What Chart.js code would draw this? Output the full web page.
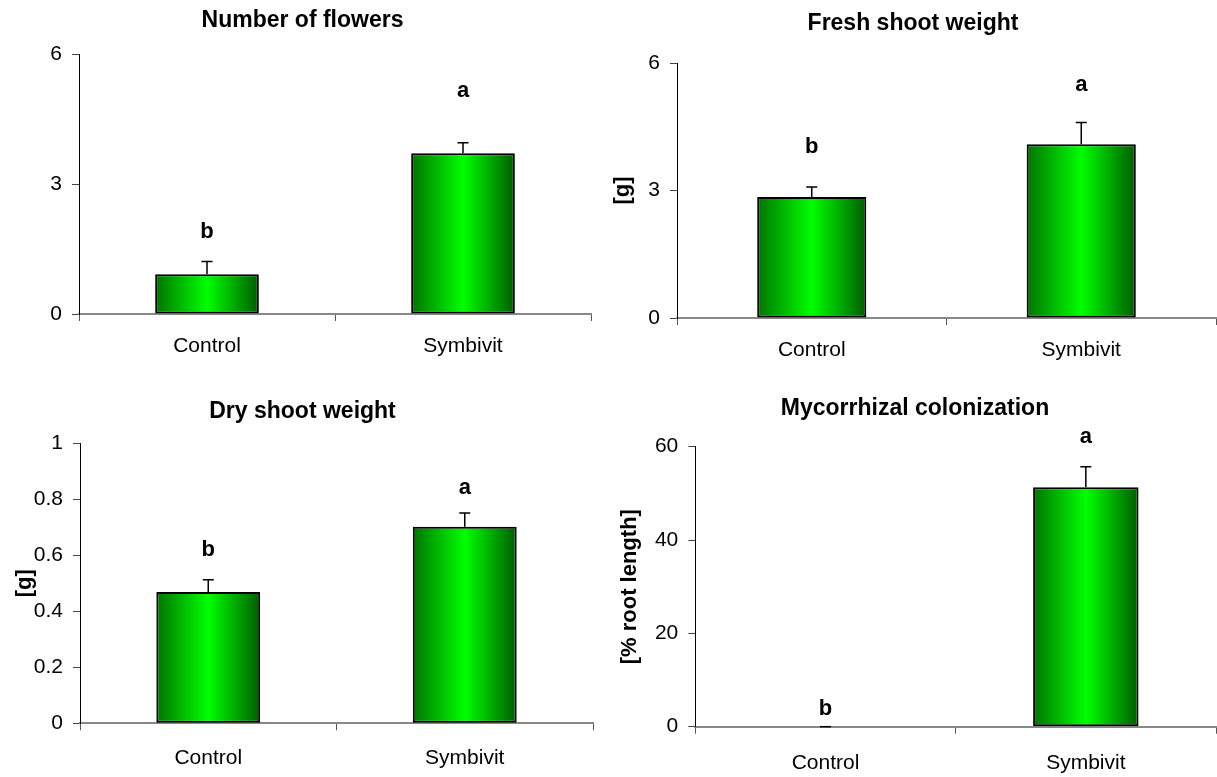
<!DOCTYPE html>
<html>
<head>
<meta charset="utf-8">
<script src="https://cdn.jsdelivr.net/npm/chart.js@4.4.0/dist/chart.umd.min.js"></script>
<style>
  body { margin: 0; background: #fff; width: 1217px; height: 777px; overflow: hidden; position: relative; }
  canvas { position: absolute; }
</style>
</head>
<body>
<canvas id="c1" width="594" height="380" style="left:14px;top:0px"></canvas>
<canvas id="c2" width="607" height="380" style="left:610px;top:0px"></canvas>
<canvas id="c3" width="596" height="397" style="left:12px;top:380px"></canvas>
<canvas id="c4" width="603" height="397" style="left:614px;top:380px"></canvas>
<script>
const categories = ['Control', 'Symbivit']
const letters = ['b', 'a']

const flowers = [0.92, 3.71]
const flowersErr = [0.29, 0.24]
const flowersLetterAt = [1.89, 5.15]

const fresh = [2.85, 4.09]
const freshErr = [0.23, 0.51]
const freshLetterAt = [4.03, 5.48]

const dry = [0.469, 0.702]
const dryErr = [0.044, 0.049]
const dryLetterAt = [0.619, 0.839]

const colon = [0, 51.3]
const colonErr = [0, 4.4]
const colonLetterAt = [3.9, 62.1]

Chart.defaults.font.family = "'Liberation Sans', Arial, sans-serif"
Chart.defaults.color = '#000'

const BAR_PCT = 0.405

// bars get a dark-bright-dark horizontal green gradient
const barFill = ctx => {
  const chart = ctx.chart
  const x = chart.scales.x
  if (!chart.chartArea || !x) return '#00c000'
  const w = x.width / categories.length * BAR_PCT
  const cx = x.getPixelForValue(ctx.dataIndex)
  const g = chart.ctx.createLinearGradient(cx - w / 2, 0, cx + w / 2, 0)
  g.addColorStop(0, '#007400')
  g.addColorStop(0.5, '#00ff00')
  g.addColorStop(1, '#005c00')
  return g
}

// error bars (upper only) and significance letters
const marks = {
  id: 'marks',
  afterDatasetsDraw(chart, args, opts) {
    const ctx = chart.ctx
    const y = chart.scales.y
    const meta = chart.getDatasetMeta(0)
    const vals = chart.data.datasets[0].data
    ctx.save()
    ctx.strokeStyle = '#000'
    ctx.lineWidth = 1.5
    meta.data.forEach((bar, i) => {
      const top = y.getPixelForValue(vals[i] + opts.errs[i])
      ctx.beginPath()
      ctx.moveTo(bar.x, bar.y)
      ctx.lineTo(bar.x, top)
      ctx.moveTo(bar.x - 5.5, top)
      ctx.lineTo(bar.x + 5.5, top)
      ctx.stroke()
      ctx.fillStyle = '#000'
      ctx.font = "bold 22px 'Liberation Sans', Arial, sans-serif"
      ctx.textAlign = 'center'
      ctx.textBaseline = 'middle'
      ctx.fillText(letters[i], bar.x, y.getPixelForValue(opts.letterAt[i]))
    })
    ctx.restore()
  }
}

function makeChart(id, o) {
  return new Chart(document.getElementById(id), {
    type: 'bar',
    data: {
      labels: categories,
      datasets: [{
        data: o.values,
        backgroundColor: barFill,
        borderColor: '#000',
        borderWidth: ctx => ctx.raw === 0 ? 0 : 2,
        borderSkipped: false,
        categoryPercentage: BAR_PCT,
        barPercentage: 1
      }]
    },
    options: {
      responsive: false,
      animation: false,
      devicePixelRatio: 1,
      layout: { padding: { left: 0, right: o.padRight, top: 0, bottom: 0 } },
      plugins: {
        legend: { display: false },
        tooltip: { enabled: false },
        title: {
          display: true,
          text: o.title,
          color: '#000',
          font: { size: 23, weight: 'bold' },
          padding: o.titlePad
        },
        marks: { errs: o.errs, letterAt: o.letterAt }
      },
      scales: {
        x: {
          afterFit: s => { s.height = o.xHeight },
          grid: { offset: true, drawOnChartArea: false, tickLength: 7, color: '#555' },
          border: { color: '#888', width: 2 },
          ticks: { font: { size: 21 }, color: '#000', padding: o.xLabelPad }
        },
        y: {
          min: 0,
          max: o.yMax,
          afterFit: s => { s.width = o.yWidth },
          grid: { drawOnChartArea: false, tickLength: 7, color: '#444' },
          border: { color: '#000', width: 1 },
          ticks: {
            stepSize: o.yStep, font: { size: 21 }, color: '#000', padding: 10,
            callback: v => String(+v.toFixed(2))
          },
          title: {
            display: !!o.yTitle,
            text: o.yTitle,
            color: '#000',
            font: { size: 22, weight: 'bold' },
            padding: { top: o.yTitlePad || 0, bottom: 0 }
          }
        }
      }
    },
    plugins: [marks]
  })
}

makeChart('c1', {
  values: flowers, errs: flowersErr, letterAt: flowersLetterAt,
  title: 'Number of flowers', yMax: 6, yStep: 3,
  yWidth: 65, padRight: 17, xHeight: 66, xLabelPad: 13,
  titlePad: { top: 6.9, bottom: 19.5 }
})
makeChart('c2', {
  values: fresh, errs: freshErr, letterAt: freshLetterAt,
  title: 'Fresh shoot weight', yMax: 6, yStep: 3, yTitle: '[g]', yTitlePad: 0,
  yWidth: 67, padRight: 1, xHeight: 62, xLabelPad: 12.4,
  titlePad: { top: 9.5, bottom: 25.9 }
})
makeChart('c3', {
  values: dry, errs: dryErr, letterAt: dryLetterAt,
  title: 'Dry shoot weight', yMax: 1, yStep: 0.2, yTitle: '[g]', yTitlePad: 0,
  yWidth: 68, padRight: 15, xHeight: 53.7, xLabelPad: 15.4,
  titlePad: { top: 17.9, bottom: 17.8 }
})
makeChart('c4', {
  values: colon, errs: colonErr, letterAt: colonLetterAt,
  title: 'Mycorrhizal colonization', yMax: 60, yStep: 20, yTitle: '[% root length]', yTitlePad: 2.3,
  yWidth: 81.3, padRight: 1, xHeight: 50.3, xLabelPad: 17,
  titlePad: { top: 14.5, bottom: 24.6 }
})
</script>
</body>
</html>
